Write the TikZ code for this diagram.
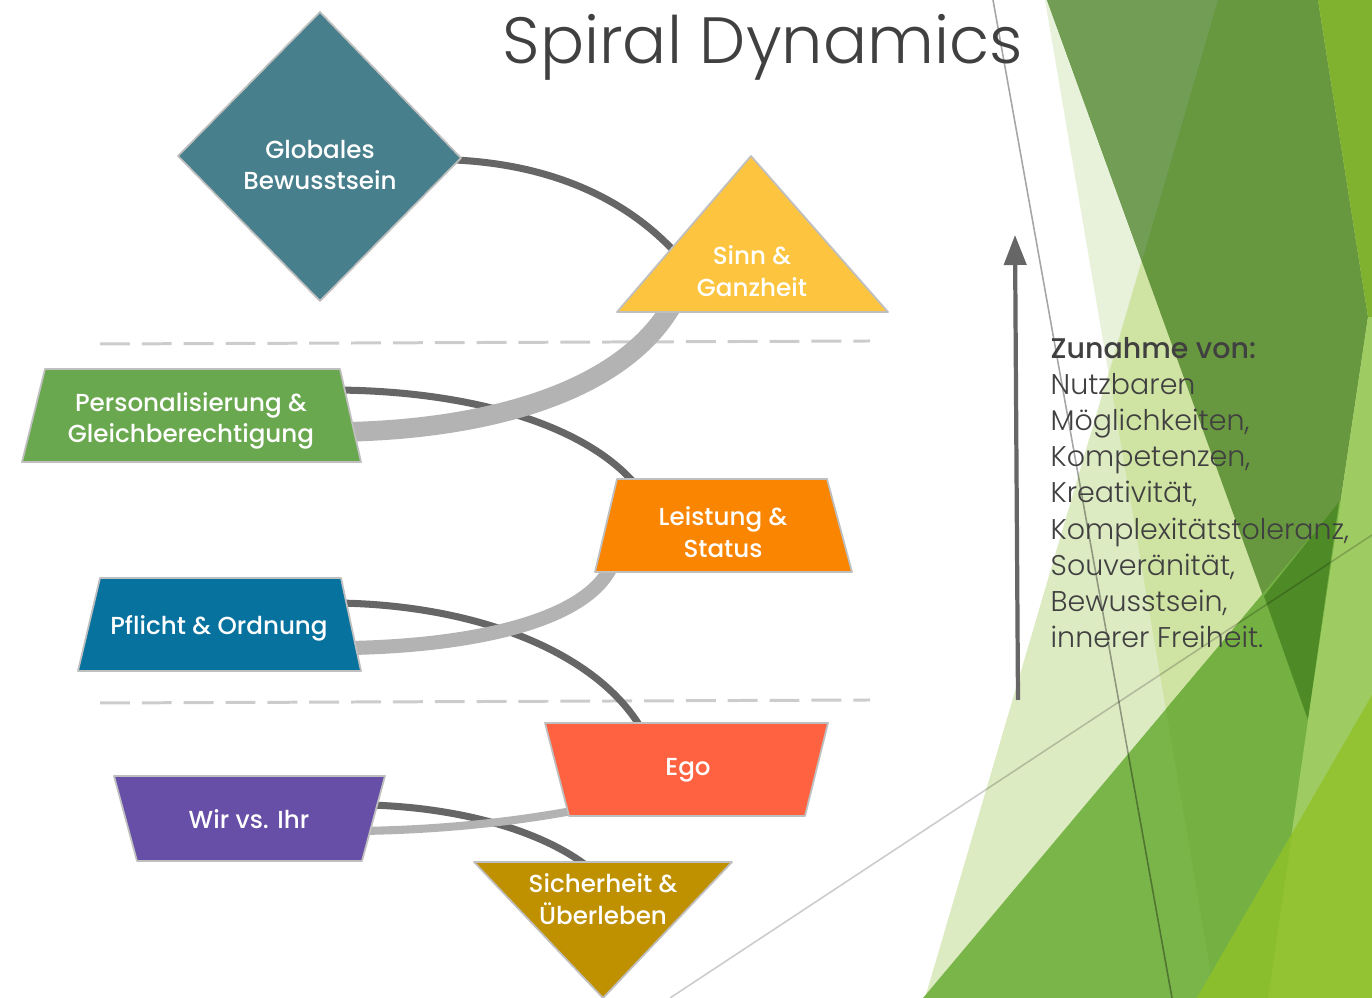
\documentclass[tikz,border=0pt]{standalone}
\usepackage{fontspec}
\setmainfont{Poppins}
\newfontfamily\thinfont{Poppins Light}
\newfontfamily\boxfont{Poppins Medium}
\usetikzlibrary{arrows.meta}

\definecolor{textgray}{HTML}{404040}
\definecolor{linkdark}{HTML}{666666}
\definecolor{linklight}{HTML}{B3B3B3}
\definecolor{sepgray}{HTML}{CCCCCC}
\definecolor{bordergray}{HTML}{BFBFBF}
\definecolor{tealbox}{HTML}{477F8C}
\definecolor{yellowbox}{HTML}{FDC440}
\definecolor{greenbox}{HTML}{6AA84F}
\definecolor{orangebox}{HTML}{FA8500}
\definecolor{bluebox}{HTML}{07729E}
\definecolor{redbox}{HTML}{FF6240}
\definecolor{purplebox}{HTML}{674EA7}
\definecolor{goldbox}{HTML}{BF9000}
% facet greens
\definecolor{greenA}{HTML}{E8F1DA}
\definecolor{greenB}{HTML}{DDEBC3}
\definecolor{greenAB}{HTML}{CFE3A2}
\definecolor{greenD}{HTML}{67973F}
\definecolor{greenDl}{HTML}{719D55}
\definecolor{greenM}{HTML}{7AB54A}
\definecolor{greenMA}{HTML}{74B142}
\definecolor{greenDM}{HTML}{4E8A26}
\definecolor{greenR}{HTML}{9FCC62}
\definecolor{greenL}{HTML}{93C332}
\definecolor{greenLl}{HTML}{8BBE2D}
\definecolor{greenT}{HTML}{80B22F}

\tikzset{
  shapeborder/.style={draw=bordergray, line width=0.5pt, line join=round},
  darklink/.style={draw=linkdark, line width=2pt},
  lightlink/.style={draw=linklight},
  levelsep/.style={draw=sepgray, line width=0.85pt, dash pattern=on 8.5pt off 3.4pt},
  boxtext/.style={text=white, font=\boxfont\fontsize{7}{9}\selectfont, align=center, inner sep=0pt},
}

\begin{document}
\begin{tikzpicture}[x=0.01cm, y=-0.01cm]
	\useasboundingbox (0,0) rectangle (1372,998);
	
	%%%%% background facets %%%%%
	\fill[greenA] (1045,0) -- (1372,0) -- (1372,998) -- (1215,998) -- cycle;
	\fill[greenB] (1218,0) -- (1372,0) -- (1372,998) -- (925,998) -- cycle;
	\fill[greenAB] (1218,0) -- (1372,0) -- (1372,998) -- (1215,998) -- (1109,374) -- cycle;
	\fill[greenD] (1047,0) -- (1318,0) -- (1368,317) -- (1308,720) -- cycle;
	\fill[greenDl] (1047,0) -- (1218,0) -- (1142,261) -- cycle;
	\fill[greenM] (923,998) -- (1372,464) -- (1372,998) -- cycle;
	\fill[greenMA] (1166,709) -- (1372,464) -- (1372,998) -- (1215,998) -- cycle;
	\fill[greenDM] (1264,596) -- (1339,502) -- (1308,720) -- cycle;
	\fill[greenR] (1368,317) -- (1372,317) -- (1372,998) -- (1268,998) -- (1308,720) -- cycle;
	\fill[greenL] (1197,998) -- (1372,695) -- (1372,998) -- cycle;
	\fill[greenLl] (1197,998) -- (1292,834) -- (1268,998) -- cycle;
	\fill[greenT] (1318,0) -- (1372,0) -- (1372,317) -- (1368,317) -- cycle;
	
	\draw[black, draw opacity=0.35, line width=0.45pt] (993,0) -- (1172,998);
	\draw[black, draw opacity=0.2, line width=0.45pt] (670,998) -- (1372,535);
	
	%%%%% title and arrow %%%%%
	\node[anchor=base west, inner sep=0pt, text=textgray, font=\thinfont\fontsize{18.6}{22}\selectfont] (title) at (502,64) {Spiral Dynamics};
	
	\coordinate (arr-s) at (1018,700);
	\coordinate (arr-n) at (1015,235);
	\draw[linkdark, line width=1.2pt, -{Triangle[length=0.3cm, width=0.22cm]}] (arr-s) -- (arr-n);
	
	\node[anchor=north west, inner sep=0pt, align=left, text=textgray, font=\thinfont\fontsize{8.1}{10.25}\selectfont] (growth) at (1050,337)
		{{\boxfont Zunahme von:}\\Nutzbaren\\Möglichkeiten,\\Kompetenzen,\\Kreativität,\\Komplexitätstoleranz,\\Souveränität,\\Bewusstsein,\\innerer Freiheit.};
	
	%%%%% level separators %%%%%
	\coordinate (sep1-w) at (100,344);
	\coordinate (sep1-e) at (870,341);
	\coordinate (sep2-w) at (100,703);
	\coordinate (sep2-e) at (870,700);
	\draw[levelsep] (sep1-w) -- (sep1-e);
	\draw[levelsep] (sep2-w) -- (sep2-e);
	
	%%%%% spiral connectors %%%%%
	\coordinate (ge-e) at (455,160);
	\coordinate (sg-w) at (690,270);
	\coordinate (sg-s) at (675,300);
	\coordinate (pg-e) at (330,390);
	\coordinate (pg-e2) at (340,432);
	\coordinate (ls-n) at (640,490);
	\coordinate (ls-s) at (612,565);
	\coordinate (po-e) at (330,603);
	\coordinate (po-e2) at (350,648);
	\coordinate (eg-n) at (645,735);
	\coordinate (eg-w) at (572,811);
	\coordinate (wi-e) at (370,805);
	\coordinate (wi-e2) at (360,831);
	\coordinate (si-n) at (592,870);
	
	\draw[darklink] (ge-e) .. controls (560,165) and (640,205) .. (sg-w);
	\draw[darklink] (pg-e) .. controls (470,390) and (590,425) .. (ls-n);
	\draw[darklink] (po-e) .. controls (470,603) and (600,650) .. (eg-n);
	\draw[darklink] (wi-e) .. controls (470,808) and (550,835) .. (si-n);
	
	\draw[lightlink, line width=5.6pt] (sg-s) .. controls (625,395) and (480,430) .. (pg-e2);
	\draw[lightlink, line width=4pt] (ls-s) .. controls (585,625) and (460,646) .. (po-e2);
	\draw[lightlink, line width=2.3pt] (eg-w) .. controls (500,824) and (430,830) .. (wi-e2);
	
	%%%%% levels %%%%%
	\draw[shapeborder, fill=tealbox] (320,12) -- (461,158) -- (320,301) -- (178,156) -- cycle;
	\draw[shapeborder, fill=yellowbox] (751,156) -- (888,312) -- (617,312) -- cycle;
	\draw[shapeborder, fill=greenbox] (45,369) -- (340,369) -- (361,462) -- (22,462) -- cycle;
	\draw[shapeborder, fill=orangebox] (617,479) -- (827,479) -- (852,572) -- (595,572) -- cycle;
	\draw[shapeborder, fill=bluebox] (100,578) -- (341,578) -- (361,671) -- (78,671) -- cycle;
	\draw[shapeborder, fill=redbox] (545,723) -- (828,723) -- (805,816) -- (569,816) -- cycle;
	\draw[shapeborder, fill=purplebox] (114,776) -- (385,776) -- (362,861) -- (137,861) -- cycle;
	\draw[shapeborder, fill=goldbox] (474,862) -- (732,862) -- (603,998) -- cycle;
	
	\node[boxtext] (ge) at (320,165) {Globales\\Bewusstsein};
	\node[boxtext] (sg) at (752,271) {Sinn \&\\Ganzheit};
	\node[boxtext] (pg) at (191,421) {Personalisierung \&\\Gleichberechtigung};
	\node[boxtext] (ls) at (723,532) {Leistung \&\\Status};
	\node[boxtext] (po) at (219,628) {Pflicht \& Ordnung};
	\node[boxtext] (eg) at (688,770) {Ego};
	\node[boxtext] (wi) at (249,819) {Wir vs. Ihr};
	\node[boxtext] (si) at (603,899) {Sicherheit \&\\Überleben};
\end{tikzpicture}
\end{document}
